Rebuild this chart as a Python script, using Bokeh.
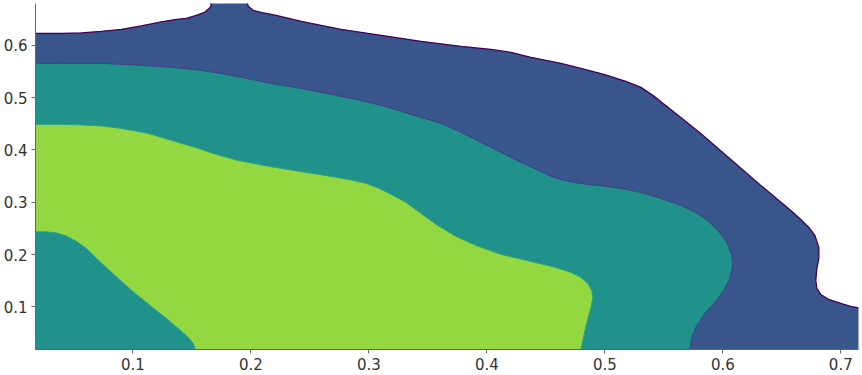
from bokeh.plotting import figure
from bokeh.models import Range1d, FixedTicker, NumeralTickFormatter
from bokeh.embed import file_html
from bokeh.resources import INLINE

# Contour boundaries (data units)
outer_x = [0.0, 0.0395, 0.0564, 0.0733, 0.0903, 0.1072, 0.1241, 0.1368, 0.1453, 0.1538, 0.1605, 0.1648,
           0.1665, 0.1656, 0.1648, 0.1978, 0.197, 0.1978, 0.202, 0.2088, 0.2215, 0.2427, 0.2765, 0.3104,
           0.3443, 0.3781, 0.4035, 0.4205, 0.4374, 0.4628, 0.4797, 0.4992, 0.5178, 0.5306, 0.5407, 0.5492,
           0.5644, 0.5813, 0.6068, 0.6322, 0.6576, 0.6661, 0.6729, 0.678, 0.6814, 0.6814, 0.6797, 0.6788,
           0.6797, 0.6831, 0.6898, 0.6999, 0.7084, 0.7152, 0.7253, 0.73, 0.73, 0.0]
outer_y = [0.623, 0.623, 0.6239, 0.6268, 0.6306, 0.6373, 0.645, 0.6497, 0.6516, 0.6574, 0.663, 0.6707,
           0.6765, 0.6822, 0.6918, 0.6918, 0.6822, 0.6746, 0.6669, 0.663, 0.6574, 0.6459, 0.6306, 0.6191,
           0.6077, 0.5981, 0.5924, 0.5866, 0.5771, 0.5656, 0.556, 0.5446, 0.5312, 0.5197, 0.5044, 0.4891,
           0.4623, 0.4317, 0.382, 0.3323, 0.2845, 0.2673, 0.252, 0.2367, 0.2138, 0.1927, 0.1736, 0.1507,
           0.1354, 0.1239, 0.1143, 0.1067, 0.101, 0.0981, 0.0952, 0.0952, 0.0, 0.0]

mid_x = [0.0, 0.0395, 0.0733, 0.1013, 0.1326, 0.158, 0.1792, 0.2003, 0.2215, 0.2427, 0.2681, 0.2892,
         0.3104, 0.3273, 0.3443, 0.3612, 0.3781, 0.395, 0.412, 0.4289, 0.4459, 0.4543, 0.4628, 0.473,
         0.4857, 0.501, 0.5136, 0.5306, 0.5475, 0.5644, 0.5771, 0.5881, 0.5966, 0.6034, 0.6076, 0.6084,
         0.6059, 0.6008, 0.5932, 0.5847, 0.5779, 0.5737, 0.572, 0.572, 0.0]
mid_y = [0.5656, 0.5656, 0.5656, 0.5627, 0.558, 0.5522, 0.5446, 0.535, 0.5255, 0.5178, 0.5063, 0.4968,
         0.4853, 0.4738, 0.4623, 0.4509, 0.4337, 0.4145, 0.3954, 0.3763, 0.3591, 0.3495, 0.3438, 0.3381,
         0.3342, 0.3304, 0.3266, 0.3189, 0.3075, 0.2941, 0.2807, 0.2635, 0.2444, 0.2233, 0.1985, 0.1793,
         0.1545, 0.1315, 0.1086, 0.0876, 0.0647, 0.0417, 0.0187, 0.0, 0.0]

core_x = [0.0, 0.0395, 0.0564, 0.0733, 0.0903, 0.1131, 0.1326, 0.1555, 0.1707, 0.1893, 0.2088, 0.2257,
          0.2469, 0.2681, 0.285, 0.2977, 0.3087, 0.3189, 0.3316, 0.3443, 0.357, 0.374, 0.3909, 0.412,
          0.4374, 0.4586, 0.4713, 0.4797, 0.4857, 0.489, 0.4899, 0.4882, 0.4857, 0.4831, 0.4814, 0.4797,
          0.4797, 0.0]
core_y = [0.449, 0.449, 0.448, 0.4461, 0.4413, 0.4317, 0.4184, 0.403, 0.3916, 0.3801, 0.3715, 0.3648,
          0.3572, 0.3495, 0.3428, 0.3361, 0.3266, 0.3151, 0.2998, 0.2788, 0.2577, 0.2348, 0.2176, 0.2004,
          0.187, 0.1755, 0.166, 0.1564, 0.1449, 0.1315, 0.1182, 0.099, 0.078, 0.0551, 0.036, 0.0187,
          0.0, 0.0]

hole_x = [0.0, 0.0268, 0.0352, 0.0437, 0.0522, 0.0606, 0.0691, 0.0793, 0.0903, 0.103, 0.1157, 0.1284,
          0.1394, 0.147, 0.1512, 0.1529, 0.1529, 0.0]
hole_y = [0.2444, 0.2434, 0.2415, 0.2358, 0.2252, 0.2119, 0.1927, 0.1717, 0.1488, 0.1239, 0.101, 0.078,
          0.057, 0.0417, 0.0302, 0.0187, 0.0, 0.0]

x_ticks = [0.1, 0.2, 0.3, 0.4, 0.5, 0.6, 0.7]
y_ticks = [0.1, 0.2, 0.3, 0.4, 0.5, 0.6]

p = figure(width=862, height=375, output_backend="svg", toolbar_location=None,
           x_range=Range1d(0.0175, 0.715), y_range=Range1d(0.0187, 0.680),
           min_border_left=34, min_border_bottom=26, min_border_top=3, min_border_right=4)

p.patch(outer_x, outer_y, fill_color="#39568c", line_color="#440154", line_width=1.3)
p.patch(mid_x, mid_y, fill_color="#21918c", line_color="#433e85", line_width=1.0)
p.patch(core_x, core_y, fill_color="#93d741", line_color="#2aa383", line_width=1.0)
p.patch(hole_x, hole_y, fill_color="#21918c", line_color="#2aa383", line_width=1.0)

p.outline_line_color = None
p.xgrid.visible = False
p.ygrid.visible = False
p.xaxis.ticker = FixedTicker(ticks=x_ticks)
p.yaxis.ticker = FixedTicker(ticks=y_ticks)
for ax in (p.xaxis[0], p.yaxis[0]):
    ax.formatter = NumeralTickFormatter(format="0.0")
    ax.axis_line_color = "#666666"
    ax.major_tick_line_color = "#666666"
    ax.major_tick_out = 4
    ax.major_tick_in = 0
    ax.minor_tick_line_color = None
    ax.major_label_text_font = "DejaVu Sans"
    ax.major_label_text_font_size = "15px"
    ax.major_label_text_color = "#333333"
    ax.major_label_standoff = 4

open("out.html", "w").write(file_html(p, INLINE))
